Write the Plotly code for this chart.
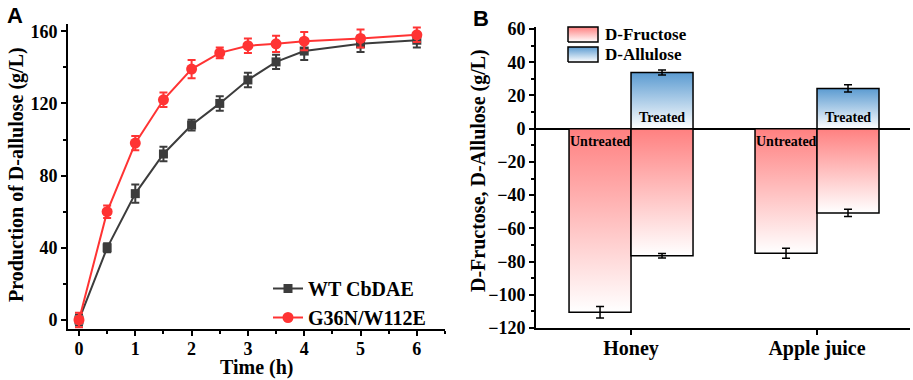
import plotly.graph_objects as go

# ---------------- Panel A data ----------------
time_h = [0, 0.5, 1, 1.5, 2, 2.5, 3, 3.5, 4, 5, 6]
wt_vals = [0, 40, 70, 92, 108, 120, 133, 143, 149, 153, 155]
wt_err = [3, 2.5, 5, 4, 3, 4, 4, 4, 5, 4.5, 4]
mut_vals = [0, 60, 98, 122, 139, 148, 152, 153, 154.5, 156, 158]
mut_err = [4, 3.5, 4, 4, 5, 3, 4, 4.5, 5, 5, 4]
series_names = ["WT CbDAE", "G36N/W112E"]

# ---------------- Panel B data ----------------
categories = ["Honey", "Apple juice"]
fru_untreated = [-110.5, -75.0]
fru_untreated_err = [3.5, 3.0]
fru_treated = [-76.5, -50.7]
fru_treated_err = [1.4, 2.2]
allu_treated = [33.8, 24.2]
allu_treated_err = [1.5, 2.2]
bar_names = ["D-Fructose", "D-Allulose"]
bar_labels = ["Untreated", "Treated"]

SERIF = "Liberation Serif, Times New Roman, serif"
BLACK = "black"
GRAY = "#3c3c3c"
RED = "#ff3333"
FRU_TOP = "#ff8080"
ALLU_TOP = "#5b9bd1"
H, Wd = 380, 913

fig = go.Figure()

# Panel A lines
for name, vals, err, col, sym, sz in [
    (series_names[0], wt_vals, wt_err, GRAY, "square", 9),
    (series_names[1], mut_vals, mut_err, RED, "circle", 11),
]:
    fig.add_trace(go.Scatter(
        x=time_h, y=vals, name=name, mode="lines+markers",
        line=dict(color=col, width=2),
        marker=dict(symbol=sym, size=sz, color=col),
        error_y=dict(type="data", array=err, color=col, thickness=2, width=4),
        xaxis="x", yaxis="y", legend="legend",
    ))

# Panel B bars drawn as gradient-filled rectangles
W = 1 / 3.0


def add_rect(x0, x1, y0, y1, top_color, xa, ya):
    fig.add_trace(go.Scatter(
        x=[x0, x0, x1, x1, x0], y=[y0, y1, y1, y0, y0], mode="lines", fill="toself",
        fillgradient=dict(type="vertical", colorscale=[[0, "white"], [1, top_color]]),
        line=dict(color=BLACK, width=1.5),
        showlegend=False, xaxis=xa, yaxis=ya, hoverinfo="skip",
    ))


for i, cat in enumerate(categories):
    add_rect(i - W, i, 0, fru_untreated[i], FRU_TOP, "x2", "y2")
    add_rect(i, i + W, 0, fru_treated[i], FRU_TOP, "x2", "y2")
    add_rect(i, i + W, 0, allu_treated[i], ALLU_TOP, "x2", "y2")

# error bars for panel B
err_x, err_y, err_v = [], [], []
for i in range(len(categories)):
    err_x += [i - W / 2, i + W / 2, i + W / 2]
    err_y += [fru_untreated[i], fru_treated[i], allu_treated[i]]
    err_v += [fru_untreated_err[i], fru_treated_err[i], allu_treated_err[i]]
fig.add_trace(go.Scatter(
    x=err_x, y=err_y, mode="markers",
    marker=dict(size=1, color="rgba(0,0,0,0)"),
    error_y=dict(type="data", array=err_v, color=BLACK, thickness=1.5, width=4),
    showlegend=False, xaxis="x2", yaxis="y2", hoverinfo="skip",
))

# Legend swatches for panel B (overlay axis in pixel units)
sw_x0, sw_x1 = 568, 598
sw_rows = [(27, 42), (47, 62)]
sw_colors = [FRU_TOP, ALLU_TOP]
for (t, b), c in zip(sw_rows, sw_colors):
    add_rect(sw_x0, sw_x1, b, t, c, "x3", "y3")

tickfont = dict(family=SERIF, size=18, color=BLACK, weight="bold")
axis_common = dict(showline=True, linecolor=BLACK, linewidth=2, ticks="outside",
                   ticklen=5, tickwidth=2, tickcolor=BLACK, showgrid=False,
                   zeroline=False, tickfont=tickfont)

annotations = []
lab_font = dict(family=SERIF, size=14, color=BLACK, weight="bold")
for i in range(len(categories)):
    annotations.append(dict(x=i - W / 2, y=0, xref="x2", yref="y2", text=bar_labels[0],
                            showarrow=False, yanchor="top", yshift=-3, font=lab_font))
    annotations.append(dict(x=i + W / 2, y=0, xref="x2", yref="y2", text=bar_labels[1],
                            showarrow=False, yanchor="bottom", yshift=2, font=lab_font))

leg_font = dict(family=SERIF, size=17, color=BLACK, weight="bold")
for (t, b), name in zip(sw_rows, bar_names):
    annotations.append(dict(x=603, y=(t + b) / 2, xref="x3", yref="y3", text=name,
                            showarrow=False, xanchor="left", yanchor="middle", font=leg_font))

title_font = dict(family=SERIF, size=20, color=BLACK, weight="bold")
annotations += [
    dict(x=16 / Wd, y=1 - 175 / H, xref="paper", yref="paper", text="Production of D-allulose (g/L)",
         textangle=-90, showarrow=False, font=title_font, xanchor="center", yanchor="middle"),
    dict(x=257 / Wd, y=1 - 367 / H, xref="paper", yref="paper", text="Time (h)",
         showarrow=False, font=title_font, xanchor="center", yanchor="middle"),
    dict(x=479 / Wd, y=1 - 171 / H, xref="paper", yref="paper", text="D-Fructose, D-Allulose (g/L)",
         textangle=-90, showarrow=False, font=title_font, xanchor="center", yanchor="middle"),
    dict(x=15 / Wd, y=1 - 15 / H, xref="paper", yref="paper", text="A", showarrow=False,
         font=dict(family="Liberation Sans", size=22, color=BLACK, weight="bold"),
         xanchor="center", yanchor="middle"),
    dict(x=481 / Wd, y=1 - 18 / H, xref="paper", yref="paper", text="B", showarrow=False,
         font=dict(family="Liberation Sans", size=22, color=BLACK, weight="bold"),
         xanchor="center", yanchor="middle"),
]

fig.update_layout(
    width=Wd, height=H, margin=dict(l=0, r=0, t=0, b=0, autoexpand=False),
    font=dict(family=SERIF, color=BLACK, weight="bold"),
    paper_bgcolor="white", plot_bgcolor="rgba(0,0,0,0)",
    xaxis=dict(domain=[68 / Wd, 445 / Wd], range=[-0.195, 6.5], dtick=1, tick0=0,
               minor=dict(ticks="outside", ticklen=3, tickwidth=2, dtick=0.5, tickcolor=BLACK),
               anchor="y", ticklabelstandoff=-3, **axis_common),
    yaxis=dict(domain=[1 - 329 / H, 1 - 24 / H], range=[-5, 164], dtick=40, tick0=0,
               minor=dict(ticks="outside", ticklen=3, tickwidth=2, dtick=20, tickcolor=BLACK),
               anchor="x", **axis_common),
    xaxis2=dict(domain=[536 / Wd, 910 / Wd], range=[-0.511, 1.5], tickmode="array",
                tickvals=list(range(len(categories))), ticktext=categories,
                anchor="y2", ticklabelstandoff=-4,
                **{**axis_common, "tickfont": dict(family=SERIF, size=20, color=BLACK, weight="bold")}),
    yaxis2=dict(domain=[1 - 328 / H, 1 - 27 / H], range=[-120, 61.2], dtick=20, tick0=0,
                minor=dict(ticks="outside", ticklen=3, tickwidth=2, dtick=10, tickcolor=BLACK),
                anchor="x2", **{**axis_common, "zeroline": True, "zerolinecolor": BLACK, "zerolinewidth": 2}),
    xaxis3=dict(domain=[0, 1], range=[0, Wd], visible=False, anchor="y3", fixedrange=True),
    yaxis3=dict(domain=[0, 1], range=[H, 0], visible=False, anchor="x3", fixedrange=True),
    legend=dict(x=268 / Wd, y=1 - 269 / H, xanchor="left", yanchor="top",
                bgcolor="rgba(0,0,0,0)", font=dict(family=SERIF, size=20, color=BLACK, weight="bold"),
                itemwidth=30, tracegroupgap=0),
    annotations=annotations,
    showlegend=True,
)

fig.write_html(
    "out.html",
    config={"displayModeBar": False},
    post_script="document.body.style.margin='0';document.body.style.overflow='hidden';",
)
